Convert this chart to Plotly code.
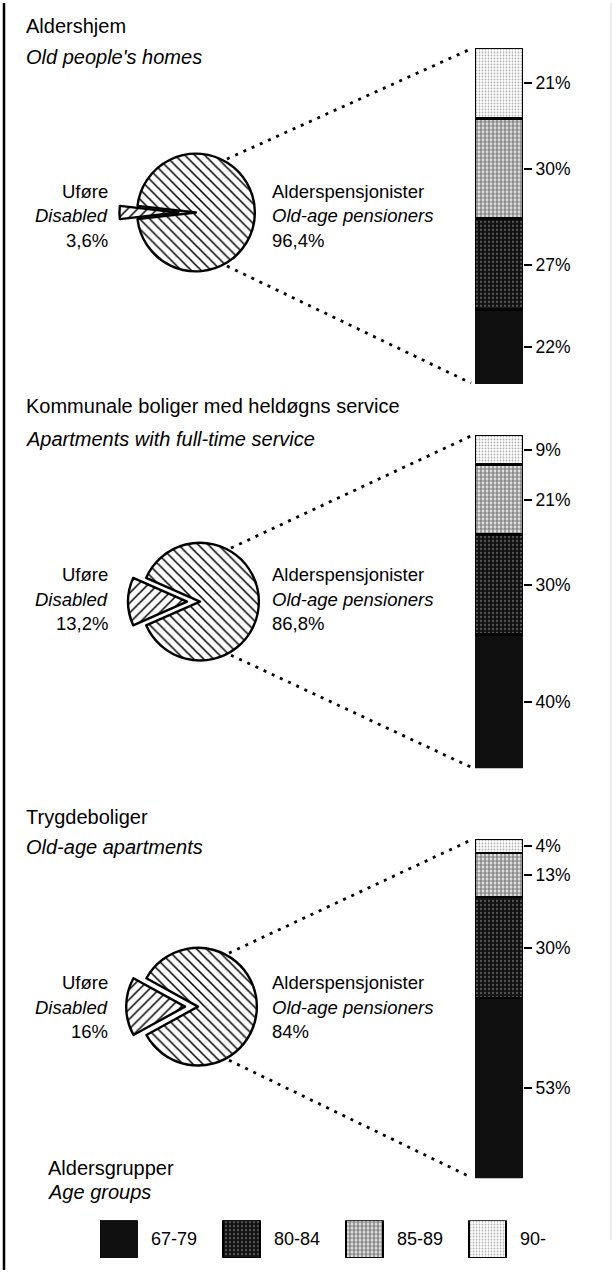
import plotly.graph_objects as go

# --- data -------------------------------------------------------------
panel_titles = ["Aldershjem", "Kommunale boliger med heldøgns service", "Trygdeboliger"]
panel_subtitles = ["Old people's homes", "Apartments with full-time service", "Old-age apartments"]

disabled_share = [3.6, 13.2, 16.0]
pensioner_share = [96.4, 86.8, 84.0]
disabled_labels = ["3,6%", "13,2%", "16%"]
pensioner_labels = ["96,4%", "86,8%", "84%"]

age_groups = ["67-79", "80-84", "85-89", "90-"]
age_aldershjem = [22, 27, 30, 21]
age_kommunale = [40, 30, 21, 9]
age_trygd = [53, 30, 13, 4]
age_values = [age_aldershjem, age_kommunale, age_trygd]

# --- layout helpers ---------------------------------------------------
W, H = 613, 1281
FONT = "Liberation Sans, Arial, sans-serif"
HEAD_SIZE = 20
LABEL_SIZE = 18.5


def px(x):
    return x / W


def py(y):
    return 1 - y / H


def label(x, y, text, anchor="left", size=LABEL_SIZE):
    return dict(x=px(x), y=py(y), xref="paper", yref="paper", text=text,
                xanchor=anchor, yanchor="middle", showarrow=False,
                font=dict(family=FONT, size=size, color="black"))


# fill style per age group (same order as age_groups)
styles = [
    dict(color="#101010", line=dict(color="#101010", width=2)),
    dict(color="#2a2a2a", line=dict(color="black", width=2.5),
         pattern=dict(shape=".", fgcolor="#9a9a9a", bgcolor="#121212", size=4, solidity=0.25)),
    dict(color="#a8a8a8", line=dict(color="black", width=2.5),
         pattern=dict(shape=".", fgcolor="#1a1a1a", bgcolor="#ffffff", size=4, solidity=0.7)),
    dict(color="#eeeeee", line=dict(color="black", width=2.5),
         pattern=dict(shape=".", fgcolor="#606060", bgcolor="#ffffff", size=3, solidity=0.3)),
]

pie_centers = [(196, 210), (200, 600), (198, 1006)]
pie_r = 59
pulls = [0.3, 0.22, 0.22]
label_rows = [189, 573, 982]
bar_x = (475, 523)
bar_y = [(45, 382), (433, 767), (838, 1178)]
title_y = [(23, 54), (404, 437), (816, 846)]

fig = go.Figure()
annotations = []
shapes = []

for i in range(3):
    cx, cy = pie_centers[i]
    hs = pie_r * (1 + pulls[i])
    wedge = 360 * disabled_share[i] / 100
    fig.add_trace(go.Pie(
        values=[disabled_share[i], pensioner_share[i]],
        labels=["Uføre", "Alderspensjonister"],
        sort=False, direction="clockwise",
        rotation=270 - wedge / 2,
        pull=[pulls[i], 0],
        textinfo="none", hoverinfo="label+percent",
        showlegend=False,
        domain=dict(x=[px(cx - hs), px(cx + hs)], y=[py(cy + hs), py(cy - hs)]),
        marker=dict(
            colors=["white", "white"],
            line=dict(color="black", width=2.4),
            pattern=dict(shape=["/", "\\"], fgcolor="black", bgcolor="white",
                         size=7, solidity=0.22),
        ),
    ))

    # stacked age bar
    xa = "x" if i == 0 else f"x{i + 1}"
    ya = "y" if i == 0 else f"y{i + 1}"
    for g, name in enumerate(age_groups):
        fig.add_trace(go.Bar(
            x=["a"], y=[age_values[i][g]], name=name, width=1,
            marker=styles[g], showlegend=False,
            xaxis=xa, yaxis=ya,
        ))
    vals = age_values[i]
    mids = []
    acc = 0
    for v in vals:
        mids.append(acc + v / 2)
        acc += v
    top, bot = bar_y[i]
    xkey = "xaxis" if i == 0 else f"xaxis{i + 1}"
    ykey = "yaxis" if i == 0 else f"yaxis{i + 1}"
    fig.update_layout({
        xkey: dict(domain=[px(bar_x[0]), px(bar_x[1])], anchor=ya, visible=False,
                   range=[-0.5, 0.5], fixedrange=True),
        ykey: dict(domain=[py(bot), py(top)], anchor=xa, side="right", range=[0, 100],
                   showgrid=False, zeroline=False, showline=False,
                   ticks="outside", ticklen=8, tickwidth=2, tickcolor="black",
                   tickvals=mids, ticktext=[f"{v}%" for v in vals],
                   tickfont=dict(family=FONT, size=17.5, color="black"),
                   fixedrange=True),
    })

    # titles
    annotations.append(label(24, title_y[i][0], panel_titles[i], size=HEAD_SIZE))
    annotations.append(label(24, title_y[i][1], f"<i>{panel_subtitles[i]}</i>", size=HEAD_SIZE))
    # pie labels
    rows = [("Uføre", "Alderspensjonister"),
            ("<i>Disabled</i>", "<i>Old-age pensioners</i>"),
            (disabled_labels[i], pensioner_labels[i])]
    for k, (t_left, t_right) in enumerate(rows):
        yy = label_rows[i] + k * 24.5
        annotations.append(label(110, yy, t_left, anchor="right"))
        annotations.append(label(270, yy, t_right))

    # dotted connectors from pie to bar corners
    ux, uy = cx + (pie_r + 3) * 0.5, cy - (pie_r + 3) * 0.866
    shapes.append(dict(type="line", xref="paper", yref="paper",
                       x0=px(ux), y0=py(uy), x1=px(bar_x[0] - 4), y1=py(top + 1),
                       line=dict(color="black", width=2.8, dash="3px,6px")))
    shapes.append(dict(type="line", xref="paper", yref="paper",
                       x0=px(ux), y0=py(2 * cy - uy), x1=px(bar_x[0] - 4), y1=py(bot - 1),
                       line=dict(color="black", width=2.8, dash="3px,6px")))

# legend block
annotations.append(label(46, 1168, "Aldersgrupper", size=HEAD_SIZE))
annotations.append(label(46, 1192, "<i>Age groups</i>", size=HEAD_SIZE))
for g, name in enumerate(age_groups):
    fig.add_trace(go.Bar(x=[g + 0.15], y=[1], width=0.3, marker=styles[g], name=name,
                         showlegend=False, xaxis="x4", yaxis="y4"))
    annotations.append(dict(x=g + 0.4, y=0.5, xref="x4", yref="y4", text=name,
                            xanchor="left", yanchor="middle", showarrow=False,
                            font=dict(family=FONT, size=18)))
fig.update_layout(
    xaxis4=dict(domain=[px(100), px(100 + 4 * 123)], range=[0, 4], visible=False,
                anchor="y4", fixedrange=True),
    yaxis4=dict(domain=[py(1258), py(1220)], range=[0, 1], visible=False,
                anchor="x4", fixedrange=True),
)

# page frame lines
shapes.append(dict(type="line", xref="paper", yref="paper", x0=px(4), x1=px(4),
                   y0=py(0), y1=py(1270), line=dict(color="black", width=2.5)))
shapes.append(dict(type="line", xref="paper", yref="paper", x0=px(611), x1=px(611),
                   y0=py(0), y1=py(1240), line=dict(color="#d8d8d8", width=1)))

fig.update_layout(
    width=W, height=H,
    margin=dict(l=0, r=0, t=0, b=0),
    paper_bgcolor="white", plot_bgcolor="white",
    barmode="stack", bargap=0,
    font=dict(family=FONT, size=16, color="black"),
    annotations=annotations, shapes=shapes,
    showlegend=False,
)

fig.write_html("out.html", config={"displayModeBar": False},
               post_script="document.body.style.margin='0px';")
